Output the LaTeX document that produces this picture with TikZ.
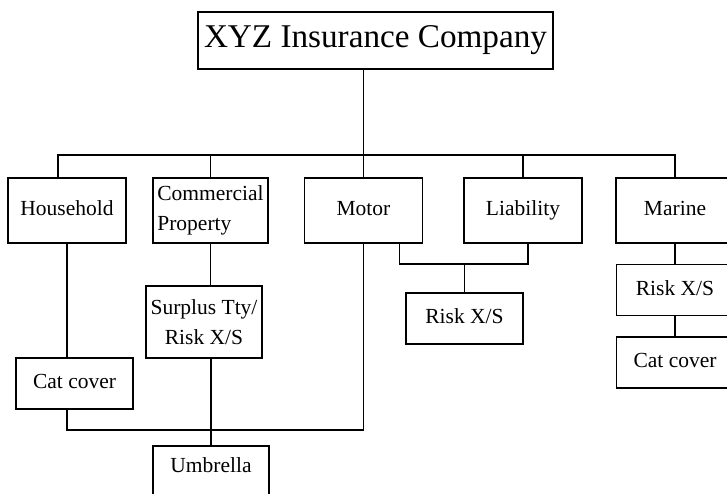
\documentclass[tikz,border=0pt]{standalone}
\usepackage{fontspec}
\setmainfont{Liberation Serif}
\usetikzlibrary{calc}
\tikzset{
   box/.style={draw, line width=0.8pt, inner sep=0pt, font=\fontsize{10.75}{15}\selectfont},
   unit/.style={box, minimum width=59pt, minimum height=32.5pt, text height=7.5pt, text depth=2.5pt},
   cover/.style={box, minimum width=58.5pt, minimum height=25.5pt, text height=7.5pt, text depth=2.5pt},
   link/.style={line width=0.8pt}
}
\begin{document}
\begin{tikzpicture}[x=0.5pt, y=-0.5pt]
      \useasboundingbox (0,0) rectangle (727,493);
      \clip (0,0) rectangle (727,493);
      \node[box, minimum width=177.5pt, minimum height=28.5pt,
         font=\fontsize{16.6}{20}\selectfont] (title) at (375.5,40.5) {XYZ Insurance Company};
      \def \Units {
         household/67/210.5/Household,
         motor/363.5/210.5/Motor,
         liability/523/210.5/Liability,
         marine/675/210.5/Marine}
      \def \Covers {
         riskL/464.5/318.5/{Risk X/S},
         catH/74.5/383.5/{Cat cover},
         riskM/675/290/{Risk X/S},
         catM/675/362.5/{Cat cover}}
      \foreach \u / \x / \y / \n in \Units {
         \node[unit] (\u) at (\x, \y){\n};
      }
      \foreach \u / \x / \y / \n in \Covers {
         \node[cover] (\u) at (\x, \y){\n};
      }
      \node[box, minimum width=57.5pt, minimum height=32.5pt, align=left] (commercial) at (210.5,210.5) {Commercial\\Property};
      \node[box, minimum width=58pt, minimum height=36pt, align=center] (surplus) at (204,322) {Surplus Tty/\\Risk X/S};
      \node[box, minimum width=58pt, anchor=north, inner ysep=3pt, text height=10.5pt, text depth=22pt] (umbrella) at (211,445) {Umbrella};
      \coordinate (bus) at (0,155);
      % main line
      \draw[link] (motor.north |- title.south) -- (motor.north |- bus);
      \draw[link] ($(household.north)+(-9,0)$) |- (marine.north |- bus) -- (marine.north);
      \draw[link] (commercial.north) -- (commercial.north |- bus);
      \draw[link] (motor.north) -- (motor.north |- bus);
      \draw[link] (liability.north) -- (liability.north |- bus);
      % household, commercial, motor
      \draw[link] (household.south) -- (household.south |- catH.north);
      \draw[link] (household.south |- catH.south) -- ++(0,20) -| (motor.south);
      \draw[link] (commercial.south) -- (commercial.south |- surplus.north);
      \draw[link] (umbrella.north |- surplus.south) -- (umbrella.north);
      % motor and liability
      \coordinate (lbus) at ($(motor.south)+(0,20)$);
      \draw[link] ($(motor.south)+(36,0)$) |- ($(liability.south |- lbus)+(5,0)$) -- ($(liability.south)+(5,0)$);
      \draw[link] (riskL.north) -- (riskL.north |- lbus);
      % marine
      \draw[link] (marine.south) -- (riskM.north);
      \draw[link] (riskM.south) -- (catM.north);
\end{tikzpicture}
\end{document}
